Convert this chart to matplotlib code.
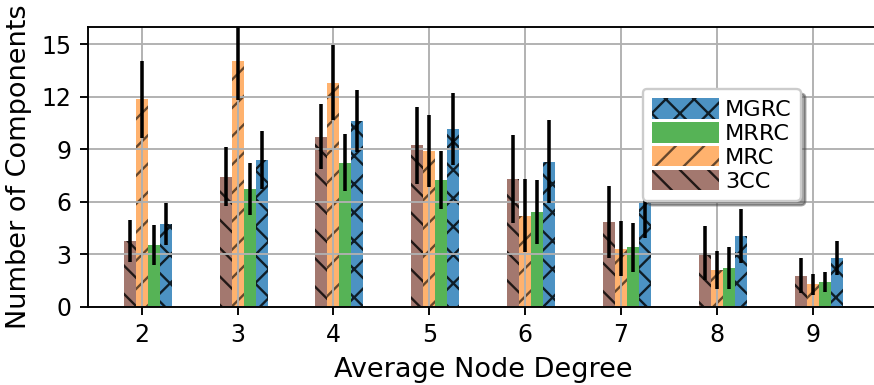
import numpy as np
import matplotlib
matplotlib.use("Agg")
import matplotlib.pyplot as plt

degrees = [2, 3, 4, 5, 6, 7, 8, 9]

cc3 = [3.75, 7.43, 9.71, 9.22, 7.30, 4.84, 3.05, 1.77]
cc3_err = [1.20, 1.70, 1.85, 2.19, 2.53, 2.07, 1.55, 1.00]
mrc = [11.85, 14.04, 12.80, 8.91, 5.20, 3.31, 2.10, 1.28]
mrc_err = [2.20, 2.20, 2.16, 2.05, 2.07, 1.57, 1.08, 0.61]
mrrc = [3.53, 6.73, 8.23, 7.24, 5.41, 3.39, 2.21, 1.41]
mrrc_err = [1.15, 1.48, 1.63, 1.66, 1.84, 1.41, 1.18, 0.58]
mgrc = [4.73, 8.38, 10.61, 10.14, 8.29, 5.90, 4.06, 2.80]
mgrc_err = [1.22, 1.65, 1.76, 2.07, 2.36, 2.00, 1.55, 0.97]

DPI = 170
fig = plt.figure(figsize=(874 / DPI, 385 / DPI), dpi=DPI)
ax = fig.add_axes([87.8 / 874, 78.3 / 385, 790.8 / 874, 280 / 385])

x = np.array(degrees)
w = 0.125
err_kw = dict(ecolor="black", elinewidth=1.5, capsize=0)

ax.bar(x - w, cc3, w, yerr=cc3_err, color="tab:brown", alpha=0.8,
       edgecolor="black", linewidth=0, hatch="\\\\", label="3CC", error_kw=err_kw)
ax.bar(x, mrc, w, yerr=mrc_err, color="tab:orange", alpha=0.6,
       edgecolor="black", linewidth=0, hatch="//", label="MRC", error_kw=err_kw)
ax.bar(x + w, mrrc, w, yerr=mrrc_err, color="tab:green", alpha=0.8,
       edgecolor="black", linewidth=0, label="MRRC", error_kw=err_kw)
ax.bar(x + 2 * w, mgrc, w, yerr=mgrc_err, color="tab:blue", alpha=0.8,
       edgecolor="black", linewidth=0, hatch="xx", label="MGRC", error_kw=err_kw)

ax.set_xlim(1.4375, 9.6875)
ax.set_ylim(0, 16)
ax.set_xticks(degrees)
ax.set_yticks([0, 3, 6, 9, 12, 15])
ax.tick_params(labelsize=10)
ax.grid(True)
ax.set_xlabel("Average Node Degree", fontsize=11.5)
ax.set_ylabel("Number of Components", fontsize=11.5)

handles, labels = ax.get_legend_handles_labels()
ax.legend(handles[::-1], labels[::-1], loc="upper left",
          bbox_to_anchor=(0.702, 0.7775), borderaxespad=0, fontsize=9.5,
          shadow=True, handlelength=3.0, handleheight=1.05,
          labelspacing=0.08, handletextpad=0.25)

fig.savefig("out.png", dpi=DPI)
